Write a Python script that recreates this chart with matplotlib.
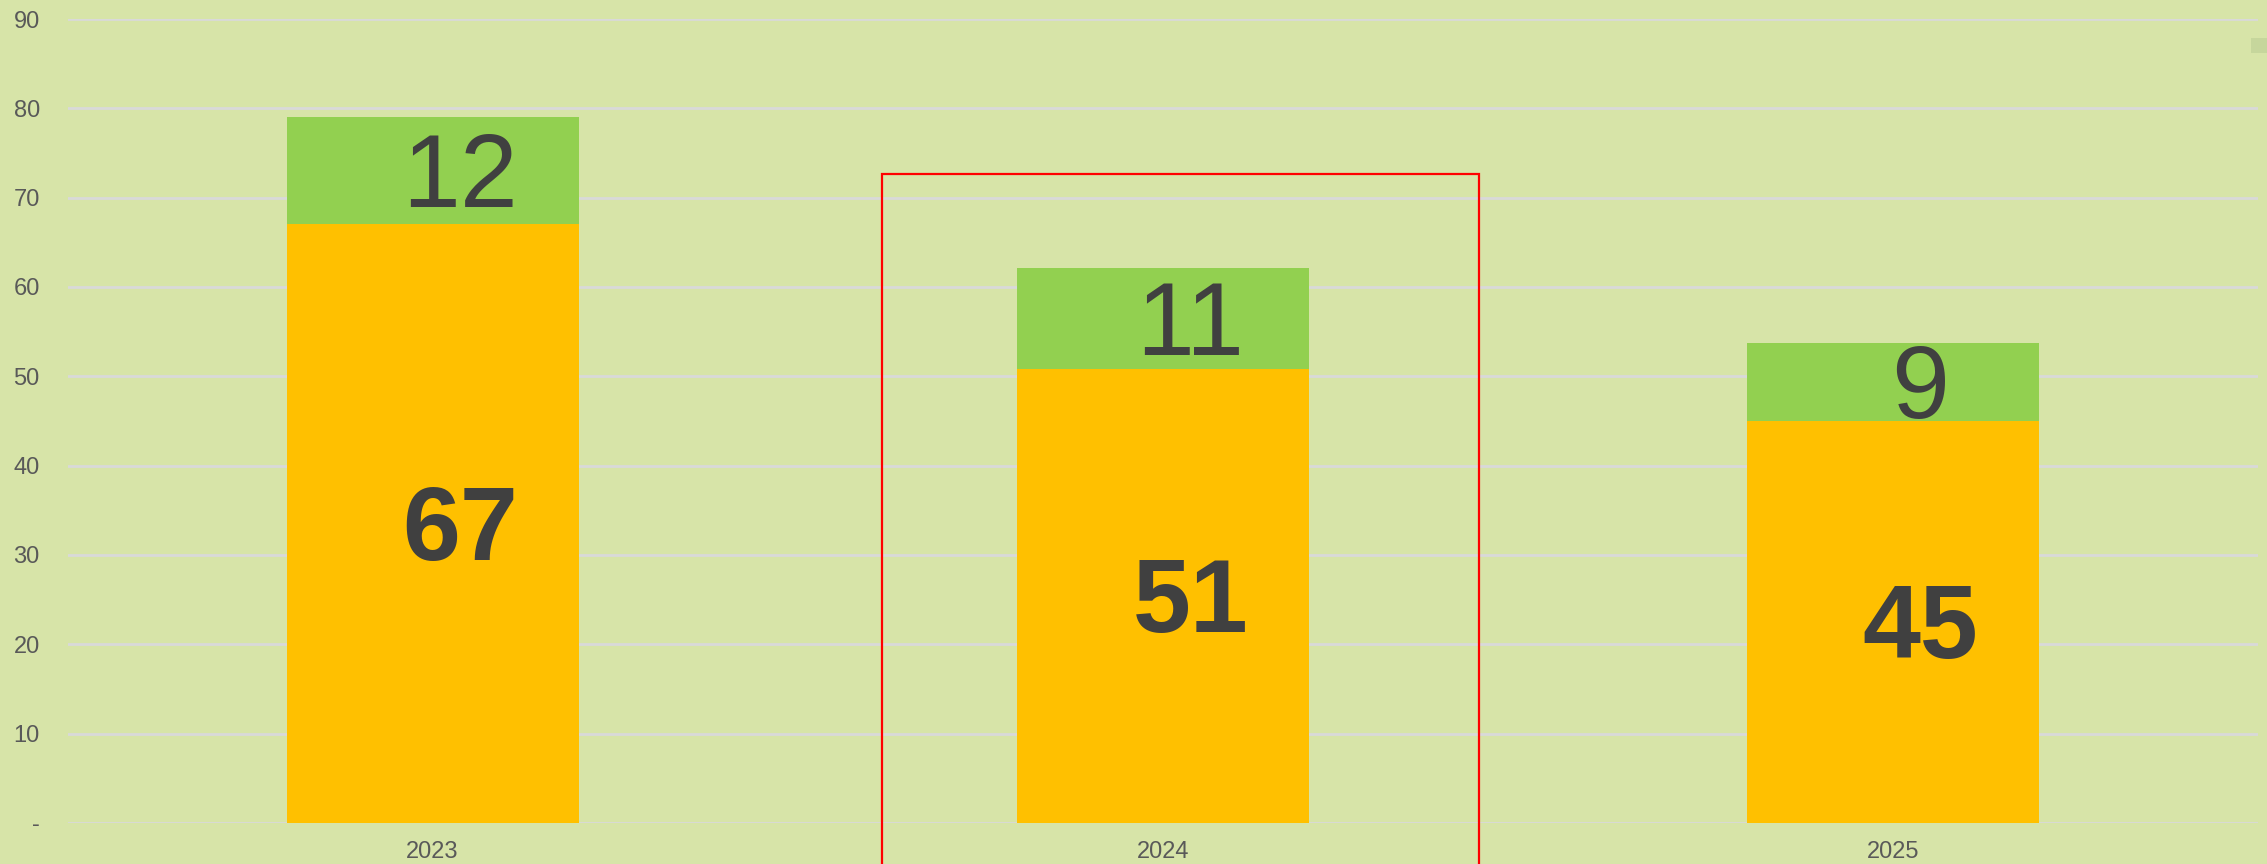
import matplotlib.pyplot as plt
from matplotlib.patches import Rectangle

plt.rcParams['font.family'] = ['Liberation Sans', 'DejaVu Sans']

years = ['2023', '2024', '2025']
base_vals = [67, 50.8, 45.0]
top_vals = [12, 11.35, 8.7]
yticks = [0, 10, 20, 30, 40, 50, 60, 70, 80, 90]
ytick_labels = ['-', '10', '20', '30', '40', '50', '60', '70', '80', '90']

bg = '#d7e4a8'
fig = plt.figure(figsize=(22.67, 8.64), dpi=100)
fig.patch.set_facecolor(bg)
ax = fig.add_axes([0.0298, 0.0475, 0.9661, 0.9305])
ax.set_facecolor(bg)

x = range(len(years))
ax.bar(x, base_vals, width=0.4, color='#ffc000', zorder=2)
ax.bar(x, top_vals, width=0.4, bottom=base_vals, color='#92d050', zorder=2)

for i in x:
    b = base_vals[i]
    t = top_vals[i]
    ax.text(i + 0.038, b / 2 - 1.1, str(round(b)), ha='center', va='center',
            fontsize=75, fontweight='bold', color='#404040', zorder=3)
    ax.text(i + 0.038, b + t / 2 - 1.1, str(round(t)), ha='center', va='center',
            fontsize=75, color='#404040', zorder=3)

ax.set_xlim(-0.5, 2.5)
ax.set_ylim(0, 90)
ax.set_xticks(list(x))
ax.set_xticklabels(years)
ax.set_yticks(yticks)
ax.set_yticklabels(ytick_labels)
ax.tick_params(axis='y', length=0, pad=20, labelsize=17, labelcolor='#595959')
ax.tick_params(axis='x', length=0, pad=13, labelsize=17, labelcolor='#595959')
ax.grid(axis='y', color='#d9d9d9', linewidth=2, zorder=1)
ax.set_axisbelow(True)
for s in ax.spines.values():
    s.set_visible(False)

# red highlight box around 2024
ax.add_patch(Rectangle((0.616, -12), 0.817, 84.7, fill=False,
                       edgecolor='#ff0000', linewidth=1.6, clip_on=False, zorder=4))

# clipped legend marker at the top-right edge
fig.patches.append(Rectangle((0.9929, 0.939), 0.01, 0.017, transform=fig.transFigure,
                             facecolor='#c6d69c', edgecolor='none'))

fig.savefig('out.png', dpi=100, facecolor=bg)
